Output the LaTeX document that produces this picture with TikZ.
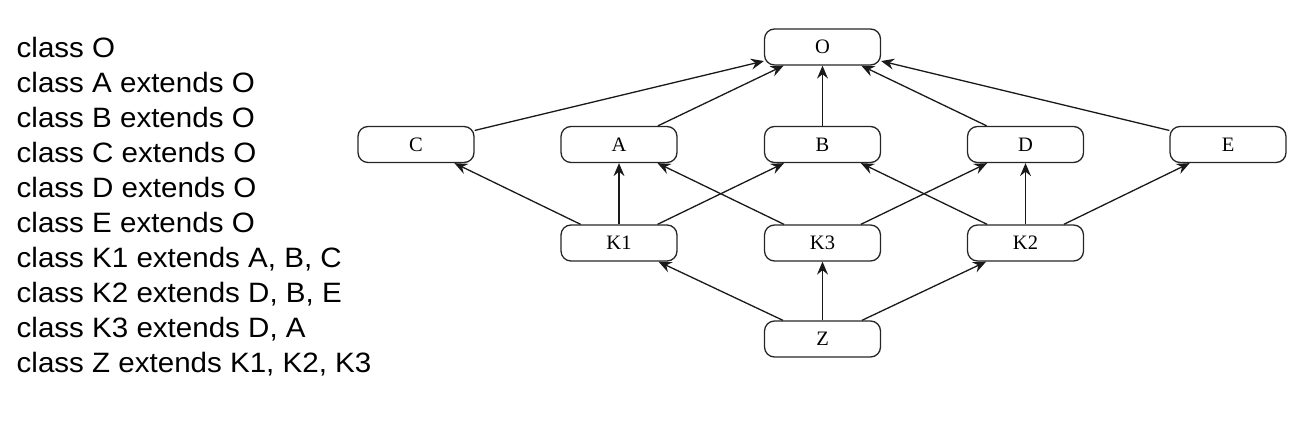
\documentclass[tikz,border=0pt]{standalone}
\usepackage{fontspec}
\setmainfont{Liberation Serif}
\newfontfamily\codefont[FakeStretch=1.055]{Liberation Sans}
\usetikzlibrary{arrows.meta}
\begin{document}
\begin{tikzpicture}[x=1pt,y=-1pt,
  cls/.style={draw=black!85, line width=1.3pt, rounded corners=10pt,
    minimum width=116pt, minimum height=36pt, inner sep=0pt,
    font=\fontsize{20.5}{24}\selectfont},
  arr/.style={-{Stealth[length=13pt,width=11pt,inset=4.5pt]}, line width=1.3pt, black!90},
  code/.style={anchor=base west, inner sep=0pt, font=\codefont\fontsize{28}{32}\selectfont}]
\useasboundingbox (0,0) rectangle (1297,430);
% code lines
\foreach \t [count=\i] in {class O, class A extends O, class B extends O, class C extends O,
  class D extends O, class E extends O, {class K1 extends A, B, C}, {class K2 extends D, B, E},
  {class K3 extends D, A}, {class Z extends K1, K2, K3}}
  \node[code] (l\i) at (16.5, 58+34.9*\i-34.9) {\t};
% nodes
\node[cls] (O) at (822.5,47) {O};
\node[cls] (C) at (416,144.5) {C};
\node[cls] (A) at (619,144.5) {A};
\node[cls] (B) at (822.5,144.5) {B};
\node[cls] (D) at (1025.5,144.5) {D};
\node[cls] (E) at (1228,144.5) {E};
\node[cls] (K1) at (619,243) {K1};
\node[cls] (K3) at (822.5,243) {K3};
\node[cls] (K2) at (1025.5,243) {K2};
\node[cls] (Z) at (822.5,339) {Z};
% edges
\foreach \s/\t in {C/O, A/O, B/O, D/O, E/O, K1/C, K1/A, K1/B, K3/A, K3/D, K2/B, K2/D, K2/E, Z/K1, Z/K3, Z/K2}
  \draw[arr] (\s) -- (\t);
\end{tikzpicture}
\end{document}
